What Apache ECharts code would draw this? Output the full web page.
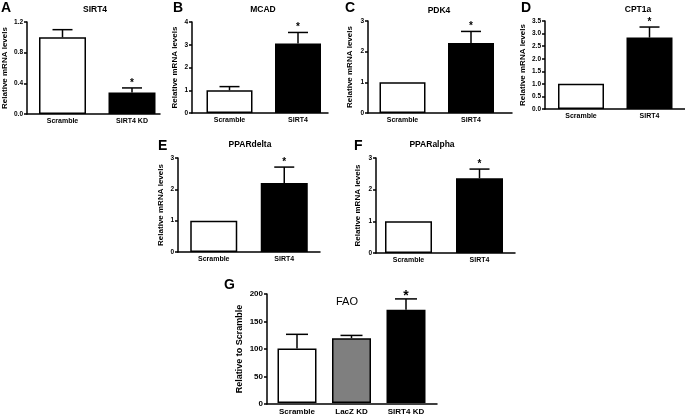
<!DOCTYPE html>
<html><head><meta charset="utf-8">
<script src="https://cdn.jsdelivr.net/npm/echarts@6/dist/echarts.min.js"></script>
<style>html,body{margin:0;padding:0;background:#fff}#c{width:685px;height:416px}</style>
</head><body><div id="c"></div>
<script>
// ---------- DATA ----------
const titleA = 'SIRT4';
const catsA = ['Scramble', 'SIRT4 KD'];
const valsA = [1.0, 0.28];
const errsA = [0.10, 0.06];
const sigA = ['', '*'];
const ticksA = ['0.0', '0.4', '0.8', '1.2'];
const colorsA = ['#ffffff', '#000000'];

const titleB = 'MCAD';
const catsB = ['Scramble', 'SIRT4'];
const valsB = [1.0, 3.06];
const errsB = [0.16, 0.48];
const sigB = ['', '*'];
const ticksB = ['0', '1', '2', '3', '4'];
const colorsB = ['#ffffff', '#000000'];

const titleC = 'PDK4';
const catsC = ['Scramble', 'SIRT4'];
const valsC = [1.0, 2.28];
const errsC = [0, 0.38];
const sigC = ['', '*'];
const ticksC = ['0', '1', '2', '3'];
const colorsC = ['#ffffff', '#000000'];

const titleD = 'CPT1a';
const catsD = ['Scramble', 'SIRT4'];
const valsD = [1.0, 2.84];
const errsD = [0, 0.42];
const sigD = ['', '*'];
const ticksD = ['0.0', '0.5', '1.0', '1.5', '2.0', '2.5', '3.0', '3.5'];
const colorsD = ['#ffffff', '#000000'];

const titleE = 'PPARdelta';
const catsE = ['Scramble', 'SIRT4'];
const valsE = [1.0, 2.2];
const errsE = [0, 0.51];
const sigE = ['', '*'];
const ticksE = ['0', '1', '2', '3'];
const colorsE = ['#ffffff', '#000000'];

const titleF = 'PPARalpha';
const catsF = ['Scramble', 'SIRT4'];
const valsF = [1.0, 2.36];
const errsF = [0, 0.29];
const sigF = ['', '*'];
const ticksF = ['0', '1', '2', '3'];
const colorsF = ['#ffffff', '#000000'];

const titleG = 'FAO';
const catsG = ['Scramble', 'LacZ KD', 'SIRT4 KD'];
const valsG = [100, 119, 171];
const errsG = [26, 5, 20];
const sigG = ['', '', '*'];
const ticksG = ['0', '50', '100', '150', '200'];
const colorsG = ['#ffffff', '#7f7f7f', '#000000'];

const yNameMRNA = 'Relative mRNA levels';
const yNameG = 'Relative to Scramble';

// ---------- LAYOUT / STYLE ----------
const FONT = '"Liberation Sans", Arial, Helvetica, sans-serif';
const INK = '#000';

const panels = [
  {letter:'A', title:titleA, cats:catsA, vals:valsA, errs:errsA, sig:sigA, ticks:ticksA, colors:colorsA, yName:yNameMRNA,
   axL:27, axR:160, top:22, bot:114, barL:27.75, barW:139, bw:47, nameGap:18, lx:1, ly:9, tx:95, ty:10},
  {letter:'B', title:titleB, cats:catsB, vals:valsB, errs:errsB, sig:sigB, ticks:ticksB, colors:colorsB, yName:yNameMRNA,
   axL:192, axR:328, top:22, bot:113, barL:195.25, barW:137, bw:46, nameGap:13, lx:173, ly:9, tx:263, ty:10},
  {letter:'C', title:titleC, cats:catsC, vals:valsC, errs:errsC, sig:sigC, ticks:ticksC, colors:colorsC, yName:yNameMRNA,
   axL:368, axR:512, top:21, bot:113, barL:368.25, barW:137, bw:46, nameGap:14, lx:345, ly:9, tx:439, ty:11},
  {letter:'D', title:titleD, cats:catsD, vals:valsD, errs:errsD, sig:sigD, ticks:ticksD, colors:colorsD, yName:yNameMRNA,
   axL:545, axR:685, top:21, bot:109, barL:546.75, barW:137, bw:46, nameGap:18, lx:521, ly:9, tx:638, ty:10},
  {letter:'E', title:titleE, cats:catsE, vals:valsE, errs:errsE, sig:sigE, ticks:ticksE, colors:colorsE, yName:yNameMRNA,
   axL:178, axR:320, top:158, bot:252, barL:178.5, barW:141, bw:47, nameGap:13, lx:158, ly:147, tx:250, ty:145},
  {letter:'F', title:titleF, cats:catsF, vals:valsF, errs:errsF, sig:sigF, ticks:ticksF, colors:colorsF, yName:yNameMRNA,
   axL:376, axR:515, top:158, bot:253, barL:373, barW:142, bw:47, nameGap:14, lx:354, ly:147, tx:432, ty:145},
  {letter:'G', title:titleG, cats:catsG, vals:valsG, errs:errsG, sig:sigG, ticks:ticksG, colors:colorsG, yName:yNameG,
   axL:267, axR:437, top:294, bot:404, barL:269.75, barW:163.5, bw:39, nameGap:23, lx:224, ly:286, tx:347, ty:302, big:true}
];

const grid = [], xAxis = [], yAxis = [], series = [], graphic = [];

panels.forEach((p, i) => {
  const tickVals = p.ticks.map(Number);
  const yMin = tickVals[0], yMax = tickVals[tickVals.length - 1], yInt = tickVals[1] - tickVals[0];
  const big = !!p.big;
  const tickFs = big ? 8 : 6.5, nameFs = big ? 9 : 8, catFs = big ? 8 : 7, lw = 1.5;
  const h = p.bot - p.top;
  const gA = grid.length, gB = gA + 1;
  grid.push({left: p.axL, top: p.top, width: p.axR - p.axL, height: h});
  grid.push({left: p.barL, top: p.top, width: p.barW, height: h});

  // axis frame grid
  xAxis.push({gridIndex: gA, type: 'value', min: 0, max: 1,
    axisLine: {show: true, lineStyle: {color: INK, width: lw}},
    axisTick: {show: false}, axisLabel: {show: false}, splitLine: {show: false}});
  yAxis.push({gridIndex: gA, type: 'value', min: yMin, max: yMax, interval: yInt,
    name: p.yName, nameLocation: 'middle', nameGap: p.nameGap,
    nameTextStyle: {fontFamily: FONT, fontWeight: 'bold', fontSize: nameFs, color: INK},
    axisLine: {show: true, lineStyle: {color: INK, width: lw}},
    axisTick: {show: true, length: 3, lineStyle: {color: INK, width: lw}},
    axisLabel: {fontFamily: FONT, fontWeight: 'bold', fontSize: tickFs, color: INK, margin: 4,
      formatter: v => p.ticks[Math.round((v - yMin) / yInt)]},
    splitLine: {show: false}});

  // bar grid
  xAxis.push({gridIndex: gB, type: 'category', data: p.cats,
    axisLine: {show: false}, axisTick: {show: false},
    axisLabel: {fontFamily: FONT, fontWeight: 'bold', fontSize: catFs, color: INK, margin: big ? 5 : 4}});
  yAxis.push({gridIndex: gB, type: 'value', min: yMin, max: yMax, show: false});

  series.push({type: 'bar', xAxisIndex: i * 2 + 1, yAxisIndex: i * 2 + 1, barWidth: p.bw, silent: true,
    data: p.vals.map((v, k) => ({value: v, itemStyle: {color: p.colors[k], borderColor: INK, borderWidth: lw}}))});

  const capHalf = big ? 11 : 10;
  const starFs = big ? 14 : 10;
  series.push({type: 'custom', xAxisIndex: i * 2 + 1, yAxisIndex: i * 2 + 1, silent: true, z: 5,
    encode: {x: 0, y: 1},
    data: p.vals.map((v, k) => [k, v, p.errs[k], p.sig[k]]),
    renderItem: (params, api) => {
      const k = api.value(0), v = api.value(1), e = api.value(2);
      const s = p.sig[k];
      const base = api.coord([k, v]);
      const tip = api.coord([k, v + e]);
      const children = [];
      if (e > 0) {
        children.push({type: 'line', shape: {x1: base[0], y1: base[1], x2: tip[0], y2: tip[1]},
          style: {stroke: INK, lineWidth: lw}});
        children.push({type: 'line', shape: {x1: tip[0] - capHalf, y1: tip[1], x2: tip[0] + capHalf, y2: tip[1]},
          style: {stroke: INK, lineWidth: lw}});
      }
      if (s) {
        children.push({type: 'text', style: {text: s, x: tip[0], y: tip[1] - (big ? 3 : 5),
          align: 'center', verticalAlign: 'middle', font: 'bold ' + starFs + 'px ' + FONT, fill: INK}});
      }
      return {type: 'group', children};
    }});

  graphic.push({type: 'text', left: p.lx, top: p.ly - 8, silent: true,
    style: {text: p.letter, font: 'bold 14px ' + FONT, fill: INK}});
  graphic.push({type: 'text', x: p.tx, y: p.ty, silent: true,
    style: {text: p.title, align: 'center', verticalAlign: 'middle',
      font: (big ? 'normal 11px ' : 'bold 8.5px ') + FONT, fill: INK}});
});

const chart = echarts.init(document.getElementById('c'), null, {renderer: 'canvas'});
chart.setOption({backgroundColor: '#fff', animation: false, grid, xAxis, yAxis, series, graphic});
</script></body></html>
